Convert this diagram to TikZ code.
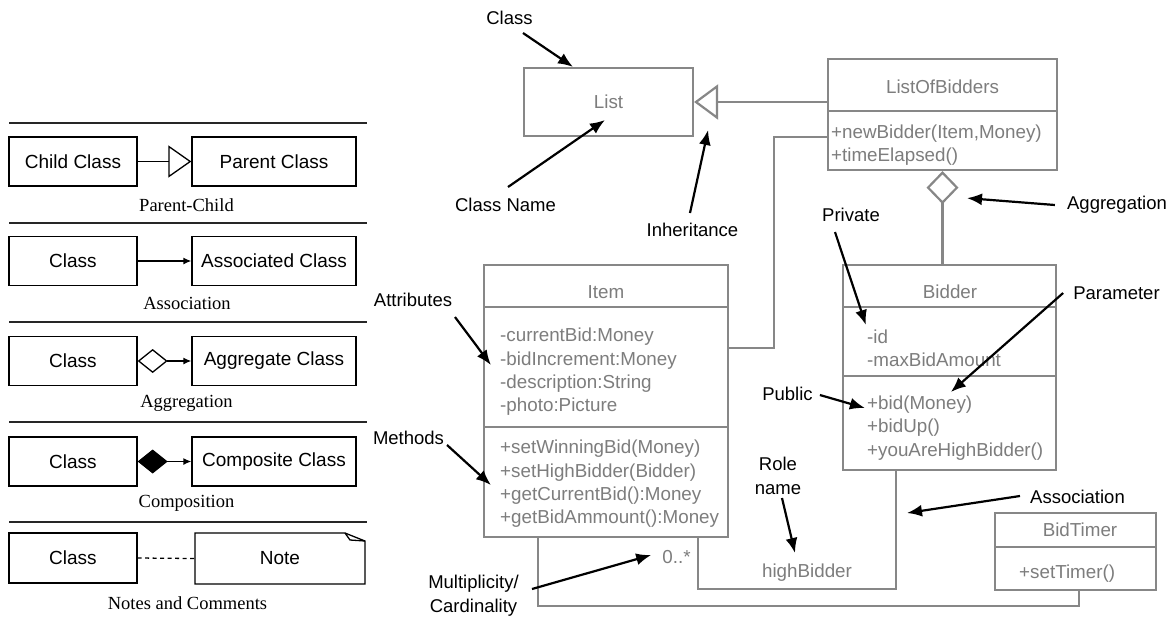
\documentclass[tikz,border=0pt]{standalone}
\usepackage{fontspec}
\setmainfont{Liberation Serif}
\setsansfont{Liberation Sans}
\usetikzlibrary{arrows.meta,calc}
\definecolor{lg}{RGB}{135,135,135}
\definecolor{tg}{RGB}{125,125,125}
\newcommand\umlCls{\sffamily\fontsize{18.8}{23.3}\selectfont}
\newcommand\umlAnn{\sffamily\fontsize{18.5}{24}\selectfont}
\newcommand\umlLeg{\sffamily\fontsize{19}{22}\selectfont}
\newcommand\umlCap{\rmfamily\fontsize{18.5}{22}\selectfont}
\begin{document}
\begin{tikzpicture}[x=1pt,y=-1pt,
  cbox/.style={draw=lg,line width=2.2pt,inner sep=0pt,text=tg,font=\umlCls},
  ctext/.style={text=tg,font=\umlCls,inner sep=0pt,align=left},
  conn/.style={draw=lg,line width=2.2pt},
  ann/.style={draw=black,line width=2.2pt,-{Latex[length=15pt,width=12pt]}},
  lbl/.style={font=\umlAnn,inner sep=0pt,align=center},
  lbox/.style={draw=black,line width=1.3pt,inner sep=0pt,font=\umlLeg},
  lcap/.style={font=\umlCap,inner sep=0pt},
  lline/.style={draw=black,line width=1.3pt},
  sepline/.style={draw=black!85,line width=1.2pt}]
\fill[white] (0,0) rectangle (1176,619);
\useasboundingbox (0,0) rectangle (1176,619);

% ---------------- legend ----------------
\foreach \yy in {123,223,322,422,522} \draw[sepline] (9,\yy) -- (367,\yy);

\node[lbox,minimum width=128,minimum height=49] (child) at (73,161.5) {Child Class};
\node[lbox,minimum width=164,minimum height=49] (parent) at (274,161.5) {Parent Class};
\node[lcap] (cap1) at (186.5,205) {Parent-Child};
\draw[lline,-{Triangle[open,length=23pt,width=32pt]}] (child.east) -- (parent.west);

\node[lbox,minimum width=128,minimum height=49] (c2) at (73,261) {Class};
\node[lbox,minimum width=164,minimum height=49] (assoc) at (274,261) {Associated Class};
\node[lcap] (cap2) at (187,303) {Association};
\draw[lline,-{Latex[length=8pt,width=7pt]}] (c2.east) -- (assoc.west);

\node[lbox,minimum width=128,minimum height=49] (c3) at (73,361) {Class};
\node[lbox,minimum width=164,minimum height=49] (aggc) at (274,361) {Aggregate Class};
\node[lcap] (cap3) at (186.5,403) {Aggregation};
\draw[lline,{Diamond[open,length=30pt,width=24pt]}-{Latex[length=8pt,width=7pt]}] (c3.east) -- (aggc.west);

\node[lbox,minimum width=128,minimum height=49] (c4) at (73,461.5) {Class};
\node[lbox,minimum width=164,minimum height=49] (comp) at (274,461.5) {Composite Class};
\node[lcap] (cap4) at (186.5,503) {Composition};
\draw[lline,{Diamond[length=30pt,width=24pt]}-{Latex[length=8pt,width=7pt]}] (c4.east) -- (comp.west);

\node[lbox,minimum width=128,minimum height=50] (c5) at (73,558) {Class};
\node[inner sep=0pt,outer sep=0pt,minimum width=170,minimum height=51,font=\umlLeg] (note) at (280,558.5) {Note};
\draw[lline] (note.north west) -- ($(note.north east)+(-20,0)$) -- ($(note.north east)+(0,8)$) -- (note.south east) -- (note.south west) -- cycle;
\draw[lline] ($(note.north east)+(-20,0)$) -- ($(note.north east)+(-15,7)$) -- ($(note.north east)+(0,8)$);
\node[lcap] (cap5) at (187.5,603) {Notes and Comments};
\draw[lline,dash pattern=on 4pt off 3.5pt] (c5.east) -- (note.west);

% ---------------- class diagram ----------------
\node[cbox,minimum width=169,minimum height=68] (list) at (608.5,102) {List};

\node[cbox,minimum width=229,minimum height=52] (lobt) at (942.5,85) {};
\node[cbox,minimum width=229,minimum height=59] (lobm) at (942.5,140.5) {};
\node[ctext] (lobname) at (942.5,87) {ListOfBidders};
\node[ctext,anchor=west] (lobops) at (831,145) {+newBidder(Item,Money)\\+timeElapsed()};

\node[cbox,minimum width=244,minimum height=42] (itemt) at (606,286) {};
\node[cbox,minimum width=244,minimum height=120] (itema) at (606,367) {};
\node[cbox,minimum width=244,minimum height=110] (itemm) at (606,482) {};
\node[ctext] (itemname) at (606,292) {Item};
\node[ctext,anchor=west] (itemattrs) at (500,372) {-currentBid:Money\\-bidIncrement:Money\\-description:String\\-photo:Picture};
\node[ctext,anchor=west] (itemops) at (500,484) {+setWinningBid(Money)\\+setHighBidder(Bidder)\\+getCurrentBid():Money\\+getBidAmmount():Money};

\node[cbox,minimum width=213,minimum height=42] (bidt) at (949.5,286) {};
\node[cbox,minimum width=213,minimum height=69] (bida) at (949.5,341.5) {};
\node[cbox,minimum width=213,minimum height=94] (bidm) at (949.5,423) {};
\node[ctext] (bidname) at (950,292) {Bidder};
\node[ctext,anchor=west] (bidattrs) at (867,348) {-id\\-maxBidAmount};
\node[ctext,anchor=west] (bidops) at (867,428) {+bid(Money)\\+bidUp()\\+youAreHighBidder()};

\node[cbox,minimum width=161,minimum height=34] (btt) at (1075.5,530) {};
\node[cbox,minimum width=161,minimum height=43] (btm) at (1075.5,568.5) {};
\node[ctext] (btname) at (1080,530) {BidTimer};
\node[ctext,anchor=west] (btops) at (1019,574) {+setTimer()};

\node[ctext] (mult) at (676.5,557) {0..*};
\node[ctext] (hb) at (807,573) {highBidder};

% connectors
\draw[conn,-{Triangle[open,length=24pt,width=35pt]}] (lobt.west |- list.east) -- (list.east);
\coordinate (b1) at (774,348);
\coordinate (b2) at (774,137);
\draw[conn] (itema.east |- b1) -- (b1) -- (b2) -- (b2 -| lobm.west);
\draw[conn,{Diamond[open,length=33pt,width=32pt]}-] (lobm.south) -- (lobm.south |- bidt.north);
\coordinate (b3) at (698,589);
\coordinate (b4) at (896,589);
\draw[conn] (itemm.south -| b3) -- (b3) -- (b4) -- (bidm.south -| b4);
\coordinate (b5) at (538,606);
\coordinate (b6) at (1079,606);
\draw[conn] (itemm.south -| b5) -- (b5) -- (b6) -- (btm.south -| b6);

% annotation labels
\node[lbl] (lclass) at (509.5,18) {Class};
\node[lbl] (lcname) at (505.5,205) {Class Name};
\node[lbl] (linh) at (692.5,230) {Inheritance};
\node[lbl] (lagg) at (1117,205) {Aggregation};
\node[lbl] (lpriv) at (851,215) {Private};
\node[lbl] (lparam) at (1116.5,293) {Parameter};
\node[lbl] (lpub) at (787.5,394) {Public};
\node[lbl] (lattr) at (413,300) {Attributes};
\node[lbl] (lmeth) at (408.5,438) {Methods};
\node[lbl] (lmult) at (473.5,596) {Multiplicity/\\Cardinality};
\node[lbl] (lrole) at (778,476) {Role\\name};
\node[lbl] (lassoc) at (1077.5,497) {Association};
\coordinate (assocpt) at (907,513);

% annotation arrows
\draw[ann] ($(lclass)+(13.5,15)$) -- ($(list.north)+(-35.5,0)$);
\draw[ann] ($(lcname)+(2.5,-18)$) -- ($(list)+(-3.5,18)$);
\draw[ann] ($(linh)+(-2.5,-17)$) -- ($(list.east)+(14,28)$);
\draw[ann] ($(lagg.west)+(-12,0)$) -- ($(lobm.south)+(24.5,27)$);
\draw[ann] ($(lpriv)+(-16,17)$) -- ($(bida.west)+(24,-16.5)$);
\draw[ann] ($(lparam.west)+(-10,0)$) -- ($(bidm.west)+(109,-31)$);
\draw[ann] ($(lpub.east)+(7,1)$) -- ($(bidm.west)+(23,-15)$);
\draw[ann] ($(lattr)+(42,17)$) -- ($(itema.west)+(8,-2)$);
\draw[ann] ($(lmeth)+(38.5,7)$) -- ($(itemm.west)+(8,3)$);
\draw[ann] ($(lmult)+(58.5,-7)$) -- ($(mult.west)+(-11,-2)$);
\draw[ann] ($(lrole)+(4,22)$) -- ($(hb)+(-12,-20)$);
\draw[ann] ($(lassoc.west)+(-10,-1)$) -- (assocpt);
\end{tikzpicture}
\end{document}
